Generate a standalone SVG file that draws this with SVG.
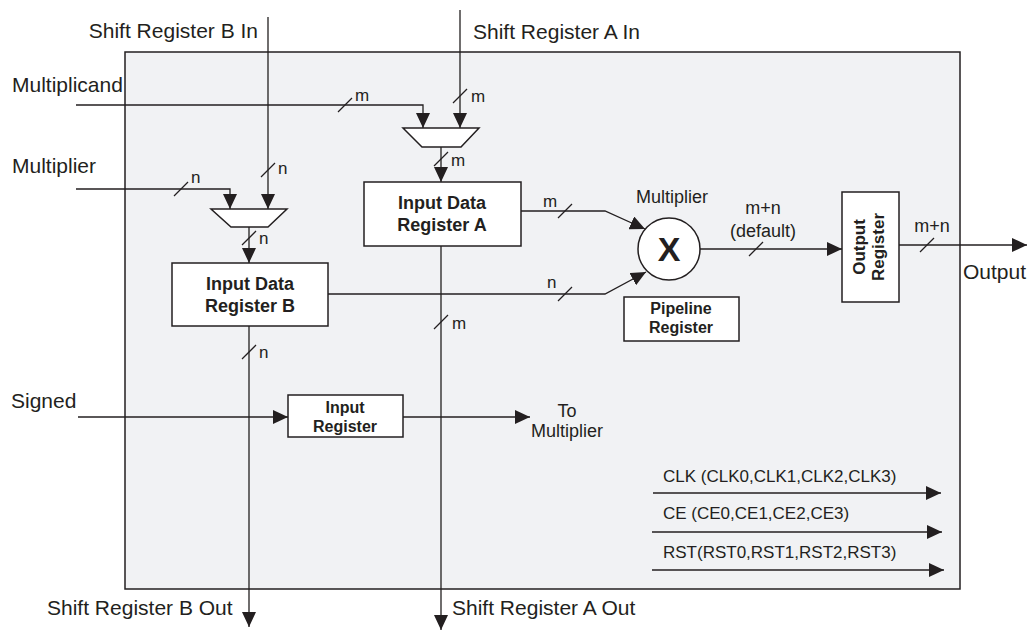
<svg xmlns="http://www.w3.org/2000/svg" width="1029" height="631" viewBox="0 0 1029 631">
<style>
text{font-family:"Liberation Sans",Arial,Helvetica,sans-serif;fill:#231f20}
.big{font-size:21px}
.lbl{font-size:18px}
.sm{font-size:17px}
.bb{font-size:18px;font-weight:bold}
.bs{font-size:16px;font-weight:bold}
.mid{text-anchor:middle}
.box{fill:#fff;stroke:#231f20;stroke-width:1.5}
.w{fill:none;stroke:#231f20;stroke-width:1.3}
.arr{marker-end:url(#ah)}
</style>
<defs>
<marker id="ah" markerUnits="userSpaceOnUse" markerWidth="15" markerHeight="14" refX="15" refY="7" orient="auto">
<path d="M0,0 L15,7 L0,14 z" fill="#231f20"/>
</marker>
</defs>
<rect id="background" width="1029" height="631" fill="#fff"/>
<g id="block">
<rect x="125" y="52" width="835" height="537" fill="#f1f2f4" stroke="#231f20" stroke-width="1.5"/>
</g>
<g id="connectors">
<path class="w arr" d="M268,17 V209"/>
<path class="w arr" d="M460,10 V128"/>
<path class="w arr" d="M76,105 H423 V128"/>
<path class="w arr" d="M76,189 H230 V209"/>
<path class="w arr" d="M249,227 V263"/>
<path class="w arr" d="M441,147 V182"/>
<path class="w arr" d="M521,211 H605 L645,229"/>
<path class="w arr" d="M328,294 H605 L646,272"/>
<path class="w arr" d="M700,249 H842"/>
<path class="w arr" d="M899,245 H1027"/>
<path class="w arr" d="M441,246 V630"/>
<path class="w arr" d="M249,326 V627"/>
<path class="w arr" d="M78,417 H288"/>
<path class="w arr" d="M403,417 H530"/>
<path class="w arr" d="M653,493 H941"/>
<path class="w arr" d="M652,532 H942"/>
<path class="w arr" d="M652,570 H944"/>
<g id="bus-slashes" class="w">
<path d="M338,112 L352,98"/>
<path d="M453,103 L467,89"/>
<path d="M434,166 L448,152"/>
<path d="M174,196 L188,182"/>
<path d="M261,177 L275,163"/>
<path d="M242,245 L256,231"/>
<path d="M558,218 L572,204"/>
<path d="M558,301 L572,287"/>
<path d="M749,256 L763,242"/>
<path d="M920,252 L934,238"/>
<path d="M434,329 L448,315"/>
<path d="M242,359 L256,345"/>
</g>
<g id="bus-labels" class="sm">
<text x="355" y="101">m</text>
<text x="471" y="102">m</text>
<text x="451" y="166">m</text>
<text x="191" y="183">n</text>
<text x="278" y="174">n</text>
<text x="259" y="244">n</text>
<text x="543" y="207">m</text>
<text x="547" y="288">n</text>
<text x="452" y="329">m</text>
<text x="259" y="358">n</text>
</g>
</g>
<g id="mux-a">
<path d="M403,128 H479 L461,147 H422 Z" class="box" stroke-width="1.3"/>
</g>
<g id="mux-b">
<path d="M211,209 H287 L268,227 H231 Z" class="box" stroke-width="1.3"/>
</g>
<g id="input-data-register-a">
<rect x="364" y="182" width="157" height="64" class="box"/>
<text x="442" y="209" class="bb mid">Input Data</text>
<text x="442" y="231" class="bb mid">Register A</text>
</g>
<g id="input-data-register-b">
<rect x="172" y="263" width="156" height="63" class="box"/>
<text x="250" y="290" class="bb mid">Input Data</text>
<text x="250" y="312" class="bb mid">Register B</text>
</g>
<g id="multiplier">
<circle cx="669" cy="249" r="31" class="box" stroke-width="1.3"/>
<text x="669" y="261" class="mid" style="font-size:34px;font-weight:bold">X</text>
<text x="672" y="203" class="lbl mid">Multiplier</text>
</g>
<g id="pipeline-register">
<rect x="624" y="297" width="115" height="44" class="box"/>
<text x="681" y="314" class="bs mid">Pipeline</text>
<text x="681" y="333" class="bs mid">Register</text>
</g>
<g id="output-register">
<rect x="842" y="192" width="57" height="110" class="box"/>
<text transform="translate(865,247) rotate(-90)" class="mid" style="font-size:17px;font-weight:bold">Output</text>
<text transform="translate(884,247) rotate(-90)" class="mid" style="font-size:17px;font-weight:bold">Register</text>
</g>
<g id="input-register">
<rect x="288" y="395" width="115" height="42" class="box"/>
<text x="345" y="413" class="bs mid">Input</text>
<text x="345" y="432" class="bs mid">Register</text>
</g>
<g id="labels">
<text x="258" y="38" class="big" text-anchor="end">Shift Register B In</text>
<text x="473" y="39" class="big">Shift Register A In</text>
<text x="12" y="92" class="big">Multiplicand</text>
<text x="12" y="173" class="big">Multiplier</text>
<text x="11" y="408" class="big">Signed</text>
<text x="47" y="615" class="big">Shift Register B Out</text>
<text x="452" y="615" class="big">Shift Register A Out</text>
<text x="963" y="279" class="big">Output</text>
<text x="763" y="214" class="lbl mid">m+n</text>
<text x="763" y="237" class="lbl mid">(default)</text>
<text x="932" y="232" class="lbl mid">m+n</text>
<text x="567" y="417" class="lbl mid">To</text>
<text x="567" y="437" class="lbl mid">Multiplier</text>
<text x="663" y="482" class="sm">CLK (CLK0,CLK1,CLK2,CLK3)</text>
<text x="663" y="519" class="sm">CE (CE0,CE1,CE2,CE3)</text>
<text x="663" y="558" class="sm">RST(RST0,RST1,RST2,RST3)</text>
</g>
</svg>
